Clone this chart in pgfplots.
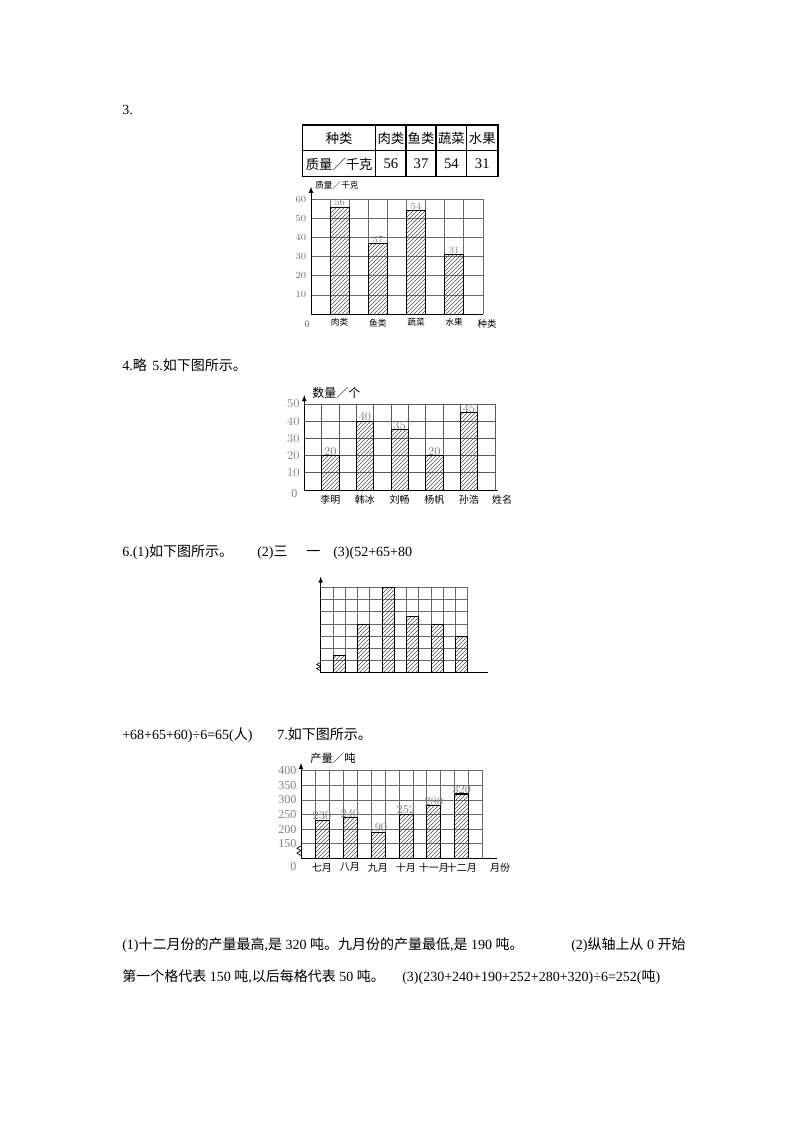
\documentclass[border=0pt]{standalone}
\usepackage{fontspec}
\setmainfont{Liberation Serif}
\newfontfamily\cjk{Noto Sans CJK SC}
\usepackage{pgfplots}
\pgfplotsset{compat=1.18}
\usepackage{pgfplotstable}
\usetikzlibrary{patterns}

\definecolor{tickc}{RGB}{125,100,95}
\definecolor{gridc}{RGB}{105,105,105}
\newcommand\bt{\fontsize{10.5}{12}\selectfont}

% one table per chart
\pgfplotstableread{
x    v
1.5  56
3.5  37
5.5  54
7.5  31
}\foodtab
\pgfplotstableread{
x    v
1.5  20
3.5  40
5.5  35
7.5  20
9.5  45
}\nametab
\pgfplotstableread{
x     v
1.5   52
3.5   65
5.5   80
7.5   68
9.5   65
11.5  60
}\classtab
\pgfplotstableread{
x     v
1.5   230
3.5   240
5.5   190
7.5   252
9.5   280
11.5  320
}\monthtab

\tikzset{zig/.style={line width=0.5pt}}
\pgfplotsset{
  sheet/.style={
    scale only axis, anchor=south west,
    axis x line=bottom, axis y line=left,
    x axis line style={-},
    y axis line style={-latex},
    axis line style={line width=0.6pt, black},
    major tick length=0pt,
    enlargelimits=false,
    grid=major, major grid style={gridc, line width=0.5pt},
    xticklabels={}, clip=false,
  },
  hatch/.style={ybar, bar width=1, draw=black, line width=0.5pt,
    pattern=north east lines, pattern color=black!70},
}

\begin{document}
\begin{tikzpicture}
\useasboundingbox (0,0) rectangle (600pt,-849pt);
\begin{scope}[x=0.75pt,y=-0.75pt]
\fill[white] (0,0) rectangle (800,1132);

% --- text of the page ---
\node[anchor=base west, inner sep=0, font=\bt] at (122,114) {3.};
\node[anchor=base west, inner sep=0, font=\bt] at (122,370) {4.{\cjk 略}};
\node[anchor=base west, inner sep=0, font=\bt] at (152,370) {5.{\cjk 如下图所示。}};
\node[anchor=base west, inner sep=0, font=\bt] at (122,556) {6.(1){\cjk 如下图所示。}};
\node[anchor=base west, inner sep=0, font=\bt] at (257,556) {(2){\cjk 三}};
\node[anchor=base west, inner sep=0, font=\bt] at (306,556) {{\cjk 一}};
\node[anchor=base west, inner sep=0, font=\bt] at (333,556) {(3)(52+65+80};
\node[anchor=base west, inner sep=0, font=\bt] at (122,739) {+68+65+60)÷6=65({\cjk 人})};
\node[anchor=base west, inner sep=0, font=\bt] at (277,739) {7.{\cjk 如下图所示。}};
\node[anchor=base west, inner sep=0, font=\bt] at (122,949)
  {(1){\cjk 十二月份的产量最高},{\cjk 是} 320 {\cjk 吨。九月份的产量最低},{\cjk 是} 190 {\cjk 吨。}};
\node[anchor=base west, inner sep=0, font=\bt] at (571,949) {(2){\cjk 纵轴上从} 0 {\cjk 开始}};
\node[anchor=base west, inner sep=0, font=\bt] at (122,981)
  {{\cjk 第一个格代表} 150 {\cjk 吨},{\cjk 以后每格代表} 50 {\cjk 吨。}};
\node[anchor=base west, inner sep=0, font=\bt] at (402,981) {(3)(230+240+190+252+280+320)÷6=252({\cjk 吨})};

% --- table of question 3 ---
\draw[line width=0.8pt] (302.7,125) rectangle (498,176.7);
\draw[line width=0.8pt] (302.7,150.7) -- (498,150.7);
\foreach \cx in {375.7,406,436,466.7} \draw[line width=0.8pt] (\cx,125) -- (\cx,176.7);
\node[font=\cjk\fontsize{10}{11}\selectfont] at (339.2,138) {种类};
\node[font=\cjk\fontsize{10}{11}\selectfont] at (339.2,164) {质量／千克};
\node[font=\cjk\fontsize{10}{11}\selectfont] at (390.9,138) {肉类};
\node[font=\cjk\fontsize{10}{11}\selectfont] at (421,138) {鱼类};
\node[font=\cjk\fontsize{10}{11}\selectfont] at (451.4,138) {蔬菜};
\node[font=\cjk\fontsize{10}{11}\selectfont] at (482.3,138) {水果};
\node[font=\fontsize{11}{12}\selectfont] at (390.9,164) {56};
\node[font=\fontsize{11}{12}\selectfont] at (421,164) {37};
\node[font=\fontsize{11}{12}\selectfont] at (451.4,164) {54};
\node[font=\fontsize{11}{12}\selectfont] at (482.3,164) {31};

% --- axis titles and end labels ---
\node[anchor=west, inner sep=0, font=\cjk\fontsize{6.5}{7}\selectfont] at (315,185) {质量／千克};
\node[font=\cjk\fontsize{7}{8}\selectfont] at (487,324) {种类};
\node[anchor=west, inner sep=0, font=\cjk\fontsize{9}{10}\selectfont] at (312,393) {数量／个};
\node[font=\cjk\fontsize{7.5}{9}\selectfont] at (502,500) {姓名};
\node[anchor=west, inner sep=0, font=\cjk\fontsize{8.5}{10}\selectfont] at (310,758) {产量／吨};
\node[font=\cjk\fontsize{7.5}{9}\selectfont] at (500,868) {月份};
\end{scope}

% --- chart of question 3 ---
\begin{axis}[sheet, at={(233.25pt,-235.5pt)}, width=128.9pt, height=86pt,
  xmin=0, xmax=9, ymin=0, ymax=60,
  xtick={1,...,9}, ytick={10,20,...,60},
  y axis line style={shorten >=-9.5pt},
  yticklabel style={font=\fontsize{7.5}{8}\selectfont, text=tickc},
  extra x ticks={1.5,3.5,5.5,7.5},
  extra x tick labels={肉类,鱼类,蔬菜,水果},
  extra x tick style={grid=none, tick label style={font=\cjk\fontsize{6.5}{8}\selectfont}},
]
\addplot[hatch, nodes near coords, point meta=explicit,
  nodes near coords style={font=\fontsize{7}{8}\selectfont, text=gray, anchor=south, inner sep=0.5pt}]
  table[x=x, y=v, meta=v] {\foodtab};
\node[font=\fontsize{7.5}{8}\selectfont, text=tickc] at (axis cs:0,0) [xshift=-3pt, yshift=-7.5pt] {0};
\end{axis}

% --- chart of question 5 ---
\begin{axis}[sheet, at={(228.2pt,-367.5pt)}, width=143pt, height=64.5pt,
  xmin=0, xmax=11, ymin=0, ymax=50,
  xtick={1,...,11}, ytick={10,20,...,50},
  major grid style={black!65},
  y axis line style={shorten >=-6.75pt},
  x axis line style={shorten >=-2pt},
  yticklabel style={font=\fontsize{9}{10}\selectfont, text=gray},
  extra x ticks={1.5,3.5,5.5,7.5,9.5},
  extra x tick labels={李明,韩冰,刘畅,杨帆,孙浩},
  extra x tick style={grid=none, tick label style={font=\cjk\fontsize{7.5}{9}\selectfont}},
]
\addplot[hatch, nodes near coords, point meta=explicit,
  nodes near coords style={font=\fontsize{9}{10}\selectfont, text=gray, anchor=south, inner sep=0pt}]
  table[x=x, y=v, meta=v] {\nametab};
\node[font=\fontsize{9}{10}\selectfont, text=gray] at (axis cs:0,0) [xshift=-7.5pt, yshift=-2.5pt] {0};
\end{axis}

% --- chart of question 6 (first row stands for 0 to 50, then 5 a row) ---
\begin{axis}[sheet, at={(240.5pt,-504.5pt)}, width=110.25pt, height=64.05pt,
  xmin=0, xmax=12, ymin=0, ymax=7,
  xtick={1,...,12}, ytick={1,...,7}, yticklabels={},
  y axis line style={shorten >=-8pt},
  x axis line style={shorten >=-15.5pt},
]
\addplot[hatch] table[x=x, y expr=(\thisrow{v}-45)/5] {\classtab};
\draw[zig] (axis cs:0,0.85) -- ++(-3pt,-1.6pt) -- ++(3pt,-1.6pt)
  -- ++(-3pt,-1.6pt) -- ++(3pt,-1.6pt);
\end{axis}

% --- chart of question 7 (first row stands for 0 to 150, then 50 a row) ---
\begin{axis}[sheet, at={(225.75pt,-643.7pt)}, width=136.3pt, height=65.7pt,
  xmin=0, xmax=13, ymin=0, ymax=6,
  xtick={1,...,13}, ytick={1,...,6},
  yticklabels={150,200,250,300,350,400},
  y axis line style={shorten >=-5.8pt},
  x axis line style={shorten >=-11pt},
  yticklabel style={font=\fontsize{9}{10}\selectfont, text=gray},
  extra x ticks={1.5,3.5,5.5,7.5,9.5,11.5},
  extra x tick labels={七月,八月,九月,十月,十一月,十二月},
  extra x tick style={grid=none, tick label style={font=\cjk\fontsize{7.5}{9}\selectfont}},
]
\addplot[hatch, nodes near coords, point meta=explicit,
  nodes near coords style={font=\fontsize{9}{10}\selectfont, text=gray, anchor=south, inner sep=0pt}]
  table[x=x, y expr=(\thisrow{v}-100)/50, meta=v] {\monthtab};
\draw[line width=1.2pt] (axis cs:11,4.4) -- (axis cs:12,4.4);
\draw[zig] (axis cs:0,0.85) -- ++(-3pt,-1.8pt) -- ++(3pt,-1.8pt)
  -- ++(-3pt,-1.8pt) -- ++(3pt,-1.8pt);
\node[font=\fontsize{9}{10}\selectfont, text=gray] at (axis cs:0,0) [xshift=-5.8pt, yshift=-6.3pt] {0};
\end{axis}
\end{tikzpicture}
\end{document}
